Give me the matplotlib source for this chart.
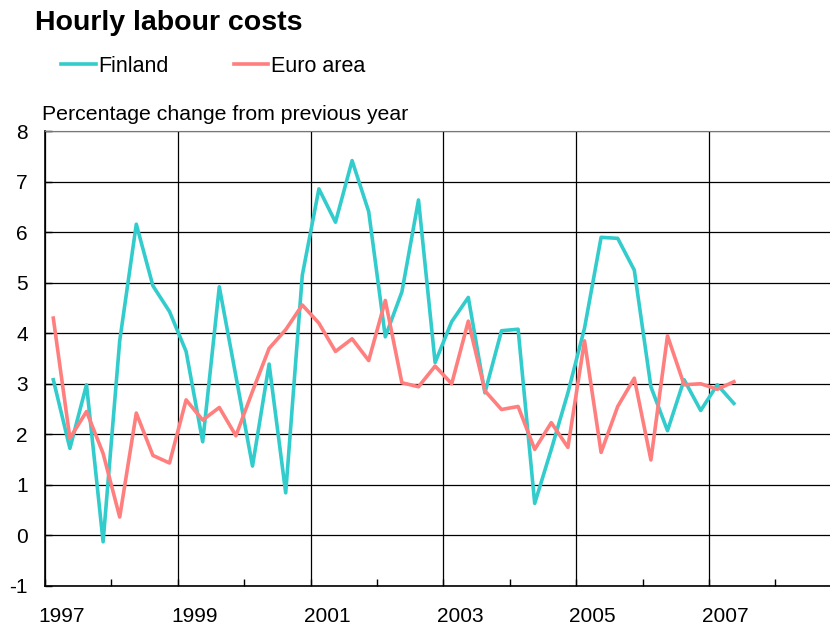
import matplotlib.pyplot as plt
import numpy as np
from matplotlib.transforms import ScaledTranslation

plt.rcParams["font.family"] = ["Liberation Sans", "DejaVu Sans"]
plt.rcParams["axes.unicode_minus"] = False

# quarterly data, 1997 Q1 .. 2007 Q2
START_YEAR = 1997
finland = [
    3.08, 1.72, 2.98, -0.13,
    3.85, 6.16, 4.94, 4.43,
    3.64, 1.85, 4.92, 3.15,
    1.37, 3.39, 0.84, 5.15,
    6.86, 6.20, 7.42, 6.41,
    3.93, 4.82, 6.64, 3.42,
    4.23, 4.71, 2.82, 4.05,
    4.08, 0.63, 1.70, 2.82,
    4.10, 5.90, 5.88, 5.25,
    2.94, 2.07, 3.08, 2.47,
    2.98, 2.61,
]
euro_area = [
    4.30, 1.92, 2.45, 1.62,
    0.36, 2.42, 1.58, 1.43,
    2.68, 2.28, 2.53, 1.97,
    2.85, 3.70, 4.07, 4.56,
    4.20, 3.64, 3.89, 3.46,
    4.65, 3.02, 2.94, 3.35,
    3.00, 4.24, 2.86, 2.49,
    2.55, 1.70, 2.23, 1.74,
    3.85, 1.64, 2.55, 3.11,
    1.49, 3.95, 2.98, 3.00,
    2.89, 3.04,
]
series_names = ["Finland", "Euro area"]
series_colors = ["#33CCCC", "#FF7F7F"]

quarters = START_YEAR + (np.arange(len(finland)) + 0.5) / 4

fig = plt.figure(figsize=(8.3, 6.27), dpi=100)
ax = fig.add_axes([45 / 830, 41.3 / 627, 1 - 45 / 830, 454.4 / 627])

lines = []
for values, name, color in zip([finland, euro_area], series_names, series_colors):
    (ln,) = ax.plot(quarters, values, color=color, lw=2.6, label=name, zorder=3)
    lines.append(ln)

ax.set_xlim(START_YEAR, START_YEAR + 785 / 66.4)
ax.set_ylim(-1, 8)
ax.set_yticks(range(-1, 9))

ax.set_xticks(range(1997, 2009, 2))
ax.set_xticks(range(1998, 2009, 2), minor=True)
ax.grid(True, which="major", color="black", lw=0.9)
ax.tick_params(which="both", direction="in", length=5, width=1, labelsize=15)
ax.tick_params(axis="y", pad=12.5)
ax.tick_params(axis="x", pad=15)

# year labels sit in the middle of the first half of the two-year span
shift = ScaledTranslation(16.6 / 100, 0, fig.dpi_scale_trans)
for lbl in ax.get_xticklabels():
    lbl.set_transform(lbl.get_transform() + shift)

ax.spines["right"].set_visible(False)
ax.spines["top"].set_color("#777777")
ax.spines["left"].set_linewidth(1.2)
ax.spines["bottom"].set_linewidth(1.2)

fig.text(35 / 830, 1 - 23 / 627, "Hourly labour costs", fontsize=20.5,
         fontweight="bold", va="center", ha="left")
fig.text(42 / 830, 1 - 114 / 627, "Percentage change from previous year",
         fontsize=15.3, va="center", ha="left")
fig.legend(handles=lines, loc="center left", bbox_to_anchor=(46 / 830, 1 - 66 / 627),
           ncol=2, frameon=False, fontsize=15.5, handlelength=1.6, handletextpad=0.15,
           columnspacing=3.0, borderpad=0.2)

fig.savefig("out.png", dpi=100)
